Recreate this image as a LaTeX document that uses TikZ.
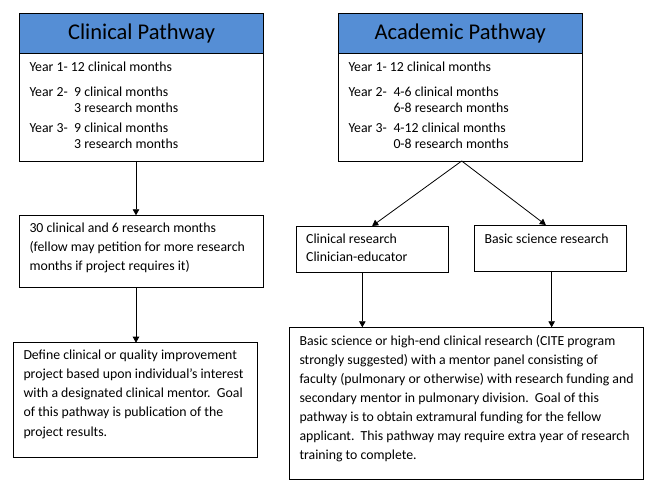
\documentclass[tikz,border=0pt]{standalone}
\usepackage{fontspec}
\setmainfont{Carlito}
\usetikzlibrary{arrows.meta}
\definecolor{hdrblue}{HTML}{558ED5}
\newcommand{\firstln}{\rule{0pt}{11pt}}
\begin{document}
\begin{tikzpicture}[x=1pt,y=-1pt,
  box/.style={draw=black, line width=0.9pt, anchor=north west, inner sep=0pt, outer sep=0pt},
  hdr/.style={box, fill=hdrblue},
  txt/.style={anchor=north west, inner sep=0pt, align=left, font=\fontsize{13.8}{19}\selectfont},
  ttl/.style={anchor=base, inner sep=0pt, font=\fontsize{22.5}{27}\selectfont},
  arr/.style={draw=black, line width=0.8pt, -{Triangle[width=6.5pt,length=6pt]}}]
\useasboundingbox (0,0) rectangle (657,494);

% Clinical pathway header and body
\node[hdr, minimum width=244pt, minimum height=40pt] (cph) at (19.5,13) {};
\node[box, minimum width=244pt, minimum height=108pt] (cp) at (19.5,53) {};
\node[ttl] (cpt) at (141.5,40) {Clinical Pathway};
\node[txt, font=\fontsize{13.8}{16}\selectfont] (cpx) at (29.3,60.5)
  {\firstln Year 1- 12 clinical months\\[8.5pt]
   \makebox[44.7pt][l]{Year 2-}9 clinical months\\
   \hspace*{44.7pt}3 research months\\[4pt]
   \makebox[44.7pt][l]{Year 3-}9 clinical months\\
   \hspace*{44.7pt}3 research months};

% Academic pathway header and body
\node[hdr, minimum width=244pt, minimum height=40pt] (ach) at (338.3,13) {};
\node[box, minimum width=244pt, minimum height=108pt] (ac) at (338.3,53) {};
\node[ttl] (act) at (460.3,40) {Academic Pathway};
\node[txt, font=\fontsize{13.8}{16}\selectfont] (acx) at (348.3,60.5)
  {\firstln Year 1- 12 clinical months\\[8.5pt]
   \makebox[45pt][l]{Year 2-}4-6 clinical months\\
   \hspace*{45pt}6-8 research months\\[4pt]
   \makebox[45pt][l]{Year 3-}4-12 clinical months\\
   \hspace*{45pt}0-8 research months};

% Clinical second box
\node[box, minimum width=244pt, minimum height=72pt] (b2) at (19.5,215.3) {};
\node[txt] (b2x) at (29.3,221)
  {\firstln 30 clinical and 6 research months\\
   (fellow may petition for more research\\
   months if project requires it)};

% Clinical third box
\node[box, minimum width=244.4pt, minimum height=114.3pt] (b3) at (13.3,342.7) {};
\node[txt, font=\fontsize{13.8}{19.25}\selectfont] (b3x) at (23.3,348)
  {\firstln Define clinical or quality improvement\\
   project based upon individual’s interest\\
   with a designated clinical mentor.\ \ Goal\\
   of this pathway is publication of the\\
   project results.};

% Academic branches
\node[box, minimum width=152.3pt, minimum height=46.3pt] (cr) at (296,226) {};
\node[txt, font=\fontsize{13.8}{18}\selectfont] (crx) at (306,232.5)
  {\firstln Clinical research\\Clinician-educator};
\node[box, minimum width=151.7pt, minimum height=46pt] (bs) at (474.3,225) {};
\node[txt] (bsx) at (484.3,232.5) {\firstln Basic science research};

% Academic final box
\node[box, minimum width=354pt, minimum height=152pt] (b4) at (289.3,327.3) {};
\node[txt] (b4x) at (299.3,334)
  {\firstln Basic science or high-end clinical research (CITE program\\
   strongly suggested) with a mentor panel consisting of\\
   faculty (pulmonary or otherwise) with research funding and\\
   secondary mentor in pulmonary division.\ \ Goal of this\\
   pathway is to obtain extramural funding for the fellow\\
   applicant.\ \ This pathway may require extra year of research\\
   training to complete.};

% Connectors
\draw[arr] ([xshift=-5.5pt]cp.south) -- ([xshift=-5.5pt]b2.north);
\draw[arr] ([xshift=-5.5pt]b2.south) -- ([xshift=-5.5pt]b2.south |- b3.north);
\coordinate (apex) at ([xshift=1.4pt]ac.south);
\draw[arr] (apex) -- (cr.north);
\draw[arr] (apex) -- ([xshift=-4.3pt]bs.north);
\draw[arr] ([xshift=-9.8pt]cr.south) -- ([xshift=-9.8pt]cr.south |- b4.north);
\draw[arr] ([xshift=1.5pt]bs.south) -- ([xshift=1.5pt]bs.south |- b4.north);
\end{tikzpicture}
\end{document}
